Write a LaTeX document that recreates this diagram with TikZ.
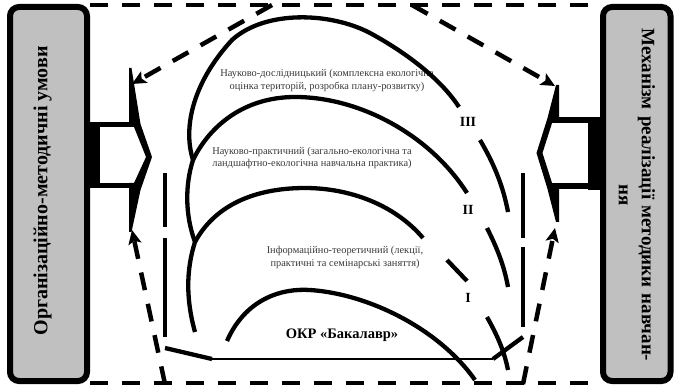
\documentclass[tikz,border=0pt]{standalone}
\usepackage{fontspec}
\setmainfont{Liberation Serif}
\usetikzlibrary{arrows.meta}
\definecolor{boxgray}{HTML}{C0C0C0}
\definecolor{txtgray}{HTML}{3A3A3A}
\begin{document}
\begin{tikzpicture}[x=1pt,y=-1pt,
  sidebox/.style={draw=black, line width=6pt, fill=boxgray, rounded corners=9pt},
  frame/.style={line width=4.5pt, dash pattern=on 18pt off 14pt},
  frarrow/.style={frame, -{Stealth[length=14pt,width=13pt,inset=3pt]}},
  arcline/.style={line width=4.3pt, line cap=butt, line join=round},
  seg/.style={line width=4.3pt, line cap=butt},
  thinline/.style={line width=1.4pt},
  small/.style={font=\fontsize{10.4}{12.2}\selectfont, text=txtgray, align=center, inner sep=0pt},
  roman/.style={font=\fontsize{14}{16}\selectfont\bfseries, inner sep=0pt},
  boxtext/.style={font=\fontsize{20}{23}\selectfont\bfseries, inner sep=0pt, align=center},
]
\useasboundingbox (0,0) rectangle (674,387);

% side boxes
\node[sidebox, minimum width=77pt, minimum height=374pt, inner sep=0pt] (lbox) at (48.5,194) {};
\node[sidebox, minimum width=67.5pt, minimum height=374pt, inner sep=0pt] (rbox) at (636.75,194) {};
\node[boxtext, rotate=90] (ltext) at (42.5,191) {Організаційно-методичні умови};
\node[boxtext, rotate=-90, text width=360pt, font=\fontsize{19}{23}\selectfont\bfseries] (rtext) at (637,195) {Механізм реалізації методики навчан-\\ня};

% left block arrow
\fill (88,122) rectangle (100,188);
\fill (99,122) rectangle (135,127);
\fill (99,183) rectangle (135,188);
\fill (129,68) -- (131.5,68) -- (140.5,124) -- (152,157) -- (140.5,190) -- (131.5,232) -- (129,232)
      -- (129,183) -- (134,183) -- (146,157) -- (134,127) -- (129,127) -- cycle;

% right block arrow
\fill (588,117) rectangle (600,190);
\fill (552,117) rectangle (589,123);
\fill (552,183.5) rectangle (589,189.5);
\fill (556,85) -- (559,85) -- (559,117) -- (553,120) -- (542.5,153) -- (553,186) -- (559,189) -- (559,222)
      -- (556,222) -- (547.5,189) -- (536.5,153) -- (547.5,118) -- cycle;

% texts
\node[small] (t3) at (327,80.5) {Науково-дослідницький (комплексна екологічна\\оцінка територій, розробка плану-розвитку)};
\node[small] (t2) at (312,158) {Науково-практичний (загально-екологічна та\\ландшафтно-екологічна навчальна практика)};
\node[small] (t1) at (345,257.5) {Інформаційно-теоретичний (лекції,\\практичні та семінарські заняття)};
\node[font=\fontsize{14.5}{17}\selectfont\bfseries, inner sep=0pt] (okr) at (342,335) {ОКР «Бакалавр»};
\node[roman] (r3) at (468,122) {III};
\node[roman] (r2) at (468,210) {II};
\node[roman] (r1) at (468,298) {I};

% arcs
\draw[arcline] (193,160) .. controls (182,125) and (195,80) .. (232,40)
               .. controls (265,10) and (330,12) .. (370,33)
               .. controls (405,52) and (440,78) .. (459,107);
\draw[arcline] (195,242) .. controls (185,215) and (185,185) .. (193,160);
\draw[arcline] (193,160) .. controls (210,125) and (245,97) .. (295,97)
               .. controls (360,97) and (430,135) .. (467,193);
\draw[arcline] (195,332) .. controls (186,300) and (186,270) .. (195,242);
\draw[arcline] (195,242) .. controls (215,205) and (255,188) .. (305,188)
               .. controls (350,188) and (395,205) .. (423,238);
\draw[arcline] (227,341) .. controls (245,300) and (280,288) .. (310,290)
               .. controls (370,294) and (440,330) .. (475,380);

% right broken continuations
\draw[arcline] (480,140) .. controls (493,162) and (503,185) .. (508,212);
\draw[arcline] (487,228) .. controls (497,248) and (504,265) .. (508,287);
\draw[arcline] (447,260) -- (467,281);
\draw[arcline] (487,317) .. controls (497,335) and (504,350) .. (508,370);

% verticals and base
\draw[seg] (165,173) -- (165,227);
\draw[seg] (165,238) -- (165,337);
\draw[seg] (523,173) -- (523,238);
\draw[seg] (523,247) -- (523,327);
\coordinate (b1) at (165,348);
\coordinate (b2) at (212,359);
\coordinate (b3) at (493,359);
\coordinate (b4) at (523,337);
\draw[seg] (b1) -- (b2);
\draw[thinline] (b2) -- (b3);
\draw[seg] (b3) -- (b4);

% dashed frame
\coordinate (ftl) at (90,5);
\coordinate (ftr) at (600,5);
\coordinate (fbl) at (90,383);
\coordinate (fbr) at (600,383);
\draw[frame] (ftl) -- (ftr);
\draw[frame] (fbl) -- (fbr);
\coordinate (dtl) at (272,5);
\coordinate (dtr) at (412,5);
\coordinate (dbl) at (165,384);
\coordinate (dbr) at (523,384);
\coordinate (alt) at (132,84);
\coordinate (art) at (555,86);
\coordinate (alb) at (132,230);
\coordinate (arb) at (555,228);
\draw[frarrow] (dtl) -- (alt);
\draw[frarrow] (dtr) -- (art);
\draw[frarrow] (dbl) -- (alb);
\draw[frarrow] (dbr) -- (arb);
\end{tikzpicture}
\end{document}
